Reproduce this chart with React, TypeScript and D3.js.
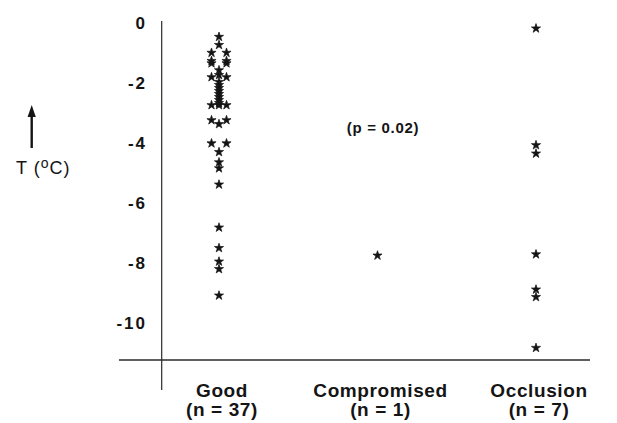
import * as d3 from 'd3';
import { useEffect, useRef } from 'react';

// temperature change (°C)
const categories = ['Good', 'Compromised', 'Occlusion'];
const categoryCounts = ['(n = 37)', '(n = 1)', '(n = 7)'];

const goodValues = [
  -0.47, -0.74, -1.0, -1.0, -1.27, -1.27, -1.35, -1.35, -1.58, -1.81, -1.74, -1.81,
  -1.97, -2.07, -2.17, -2.27, -2.37, -2.47, -2.57, -2.67, -2.74, -2.74, -2.74,
  -3.24, -3.37, -3.24, -4.01, -4.01, -4.3, -4.64, -4.84, -5.38, -6.81, -7.49,
  -7.94, -8.19, -9.07,
];
// side-by-side lane for overlapping stars (-1 left, 0 centre, 1 right)
const goodLanes = [
  0, 0, -1, 1, -1, 1, -1, 1, 0, -1, 0, 1,
  0, 0, 0, 0, 0, 0, 0, 0, -1, 0, 1,
  -1, 0, 1, -1, 1, 0, 0, 0, 0, 0, 0,
  0, 0, 0,
];
const compromisedValues = [-7.74];
const occlusionValues = [-0.19, -4.07, -4.35, -7.7, -8.87, -9.12, -10.81];

const yTicks = [0, -2, -4, -6, -8, -10];
const pLabel = '(p = 0.02)';

const WIDTH = 617;
const HEIGHT = 423;

export default function App() {
  const ref = useRef<SVGSVGElement>(null);

  useEffect(() => {
    const svg = d3.select(ref.current);
    svg.selectAll('*').remove();

    const font = '"Liberation Sans", Arial, sans-serif';
    const ink = '#141414';

    const x = d3.scalePoint<string>().domain(categories).range([219, 536]);
    const y = d3.scaleLinear().domain([0, -10]).range([22.7, 323.5]);
    const laneWidth = 7.5;

    const points = [
      ...goodValues.map((v, i) => ({ cat: 'Good', value: v, lane: goodLanes[i] })),
      ...compromisedValues.map((v) => ({ cat: 'Compromised', value: v, lane: 0 })),
      ...occlusionValues.map((v) => ({ cat: 'Occlusion', value: v, lane: 0 })),
    ];

    // axes, drawn as plain lines like the original
    svg.append('line')
      .attr('x1', 161.7).attr('x2', 161.7)
      .attr('y1', 21).attr('y2', 390)
      .attr('stroke', '#2a2a2a').attr('stroke-width', 1.2);

    svg.append('line')
      .attr('x1', 119).attr('x2', 590)
      .attr('y1', 360).attr('y2', 360)
      .attr('stroke', '#2a2a2a').attr('stroke-width', 1.3);

    const yAxis = d3.axisLeft(y)
      .tickValues(yTicks)
      .tickSize(0)
      .tickPadding(0)
      .tickFormat((d) => `${d}`);

    svg.append('g')
      .attr('transform', 'translate(147,0)')
      .call(yAxis)
      .call((g) => g.select('.domain').remove())
      .selectAll('text')
      .attr('fill', ink)
      .style('font-family', font)
      .style('font-weight', 'bold')
      .style('font-size', '17px')
      .style('letter-spacing', '2px');

    // stars
    const star = d3.symbol().type(d3.symbolStar).size(26);
    svg.append('g')
      .selectAll('path')
      .data(points)
      .enter()
      .append('path')
      .attr('d', star)
      .attr('transform', (d) => `translate(${(x(d.cat) || 0) + d.lane * laneWidth},${y(d.value)})`)
      .attr('fill', ink)
      .attr('stroke', ink)
      .attr('stroke-width', 0.7);

    // category labels
    const labels = svg.append('g')
      .selectAll('text')
      .data(categories)
      .enter()
      .append('text')
      .attr('x', (d) => x(d) || 0)
      .attr('text-anchor', 'middle')
      .attr('fill', ink)
      .style('font-family', font)
      .style('font-weight', 'bold')
      .style('font-size', '19px')
      .style('letter-spacing', '0.6px');

    labels.append('tspan')
      .attr('x', (d) => (x(d) || 0) + 3)
      .attr('y', 397)
      .text((d) => d);

    labels.append('tspan')
      .attr('x', (d) => (x(d) || 0) + 3)
      .attr('y', 416)
      .text((d, i) => categoryCounts[i]);

    // p value
    svg.append('text')
      .attr('x', 383)
      .attr('y', 133)
      .attr('text-anchor', 'middle')
      .attr('fill', ink)
      .style('font-family', font)
      .style('font-weight', 'bold')
      .style('font-size', '15px')
      .style('letter-spacing', '0.7px')
      .text(pLabel);

    // y label with arrow
    svg.append('line')
      .attr('x1', 31.7).attr('x2', 31.7)
      .attr('y1', 148).attr('y2', 114)
      .attr('stroke', ink).attr('stroke-width', 2.4);
    svg.append('path')
      .attr('d', 'M31.7,105 L27.6,117 L35.8,117 Z')
      .attr('fill', ink);

    const yLabel = svg.append('text')
      .attr('x', 16)
      .attr('y', 174)
      .attr('fill', ink)
      .style('font-family', font)
      .style('font-size', '18px')
      .style('letter-spacing', '1px');
    yLabel.append('tspan').text('T (');
    yLabel.append('tspan').attr('dy', -6).style('font-size', '14px').text('o');
    yLabel.append('tspan').attr('dy', 6).text('C)');

    return () => {
      svg.selectAll('*').remove();
    };
  }, []);

  return (
    <svg
      ref={ref}
      width={WIDTH}
      height={HEIGHT}
      style={{ position: 'absolute', left: 0, top: 0, background: '#fff' }}
      role="img"
      aria-label="Temperature change by graft outcome"
    />
  );
}
